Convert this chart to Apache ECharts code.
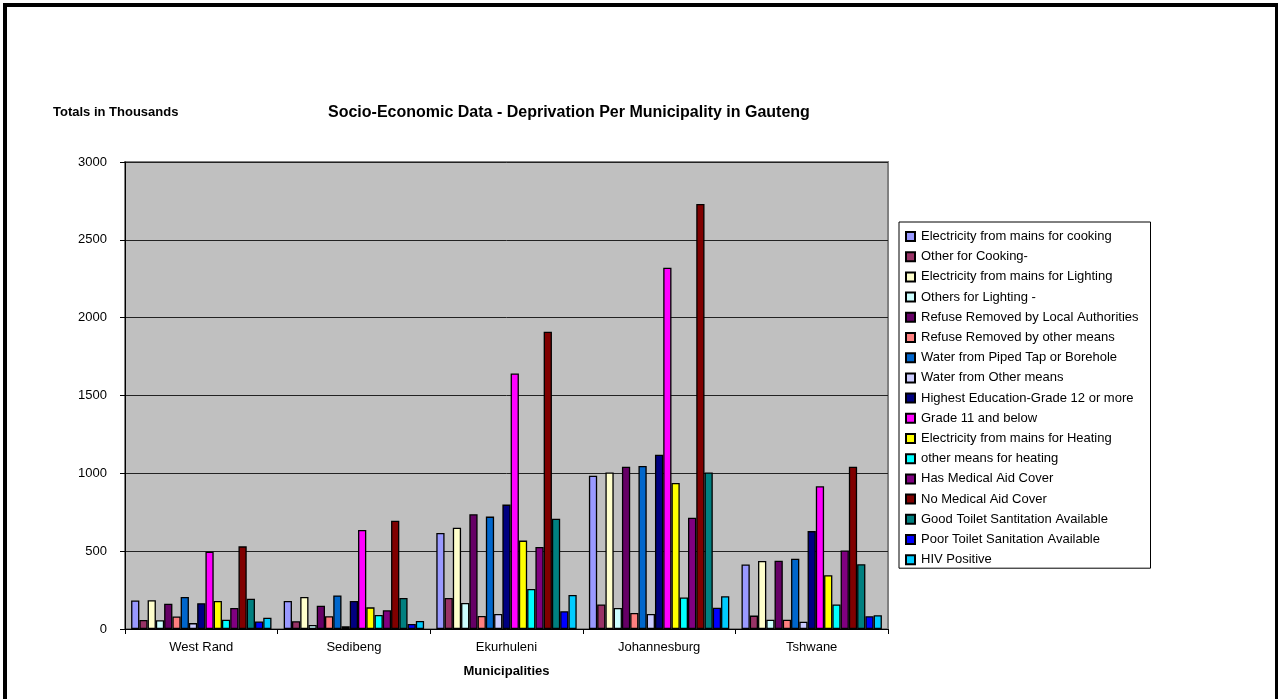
<!DOCTYPE html>
<html>
<head>
<meta charset="utf-8">
<title>Deprivation Per Municipality in Gauteng</title>
<script src="https://cdn.jsdelivr.net/npm/echarts@6/dist/echarts.min.js"></script>
<style>
  html, body { margin: 0; padding: 0; background: #fff; overflow: hidden; }
  #chart { position: absolute; left: 0; top: 0; width: 1278px; height: 699px; }
  .frame {
    position: absolute; left: 3px; top: 3px; width: 1276px; height: 800px;
    box-sizing: border-box; border: 4px solid #000; pointer-events: none;
  }
</style>
</head>
<body>
<div id="chart"></div>
<div class="frame"></div>
<script>
// municipalities on the x axis
const municipalities = ['West Rand', 'Sedibeng', 'Ekurhuleni', 'Johannesburg', 'Tshwane']

// one entry per indicator (legend order)
const indicators = [
  'Electricity from mains for cooking',
  'Other for Cooking-',
  'Electricity from mains for Lighting',
  'Others for Lighting -',
  'Refuse Removed by Local Authorities',
  'Refuse Removed by other means',
  'Water from Piped Tap or Borehole',
  'Water from Other means',
  'Highest Education-Grade 12 or more',
  'Grade 11 and below',
  'Electricity from mains for Heating',
  'other means for heating',
  'Has Medical Aid Cover',
  'No Medical Aid Cover',
  'Good Toilet Santitation Available',
  'Poor Toilet Sanitation Available',
  'HIV Positive'
]

// totals in thousands, same order as indicators
const westRand = [183, 58, 185, 56, 162, 80, 206, 38, 166, 497, 180, 60, 135, 531, 195, 48, 73]
const sedibeng = [180, 50, 206, 26, 150, 82, 216, 17, 180, 636, 139, 90, 120, 696, 199, 32, 51]
const ekurhuleni = [617, 199, 651, 167, 737, 84, 722, 96, 799, 1641, 568, 257, 527, 1910, 709, 114, 218]
const johannesburg = [985, 158, 1006, 135, 1043, 103, 1047, 96, 1120, 2321, 938, 203, 715, 2730, 1006, 137, 210]
const tshwane = [414, 86, 437, 60, 439, 60, 452, 47, 629, 917, 345, 157, 505, 1043, 416, 82, 88]

const palette = [
  '#9999FF', '#993366', '#FFFFCC', '#CCFFFF', '#660066', '#FF8080',
  '#0066CC', '#CCCCFF', '#000080', '#FF00FF', '#FFFF00', '#00FFFF',
  '#800080', '#800000', '#008080', '#0000FF', '#00CCFF'
]

const byMunicipality = [westRand, sedibeng, ekurhuleni, johannesburg, tshwane]

const seriesList = indicators.map((name, i) => {
  return {
    name: name,
    type: 'bar',
    barGap: '0%',
    barCategoryGap: '8%',
    data: byMunicipality.map(row => row[i]),
    itemStyle: {
      color: palette[i],
      borderColor: '#000',
      borderWidth: 1.3
    },
    emphasis: { disabled: true }
  }
})

const chart = echarts.init(document.getElementById('chart'))
const font = 'Arial, "Liberation Sans", sans-serif'

chart.setOption({
  animation: false,
  textStyle: { fontFamily: font },
  title: [
    {
      text: 'Socio-Economic Data - Deprivation Per Municipality in Gauteng',
      left: 328,
      top: 105,
      padding: 0,
      textStyle: { fontFamily: font, fontSize: 16, fontWeight: 'bold', color: '#000' }
    },
    {
      text: 'Totals in Thousands',
      left: 53,
      top: 106,
      padding: 0,
      textStyle: { fontFamily: font, fontSize: 13, fontWeight: 'bold', color: '#000' }
    }
  ],
  legend: {
    orient: 'vertical',
    left: 899,
    top: 222,
    padding: [8, 12, 2, 6],
    itemWidth: 9,
    itemHeight: 9,
    itemGap: 7.2,
    icon: 'rect',
    backgroundColor: '#fff',
    borderColor: '#000',
    borderWidth: 1,
    selectedMode: false,
    textStyle: { fontFamily: font, fontSize: 13, lineHeight: 13, color: '#000', padding: [0, 0, 0, 1] },
    data: indicators
  },
  grid: {
    left: 125,
    right: 390,
    top: 162,
    bottom: 70,
    show: true,
    backgroundColor: '#C0C0C0',
    borderColor: '#808080',
    borderWidth: 2
  },
  xAxis: {
    type: 'category',
    data: municipalities,
    name: 'Municipalities',
    nameLocation: 'middle',
    nameGap: 36,
    nameTextStyle: { fontFamily: font, fontSize: 13, fontWeight: 'bold', color: '#000' },
    axisLine: { lineStyle: { color: '#000', width: 1 } },
    axisTick: { show: true, length: 5, lineStyle: { color: '#000' } },
    axisLabel: { margin: 12, fontFamily: font, fontSize: 13, color: '#000' }
  },
  yAxis: {
    type: 'value',
    min: 0,
    max: 3000,
    interval: 500,
    axisLine: { show: true, lineStyle: { color: '#000', width: 1 } },
    axisTick: { show: true, length: 5, lineStyle: { color: '#000' } },
    axisLabel: {
      margin: 18,
      fontFamily: font,
      fontSize: 13,
      color: '#000',
      formatter: value => String(value)
    },
    splitLine: { lineStyle: { color: '#222', width: 1 } }
  },
  series: seriesList
})
</script>
</body>
</html>
